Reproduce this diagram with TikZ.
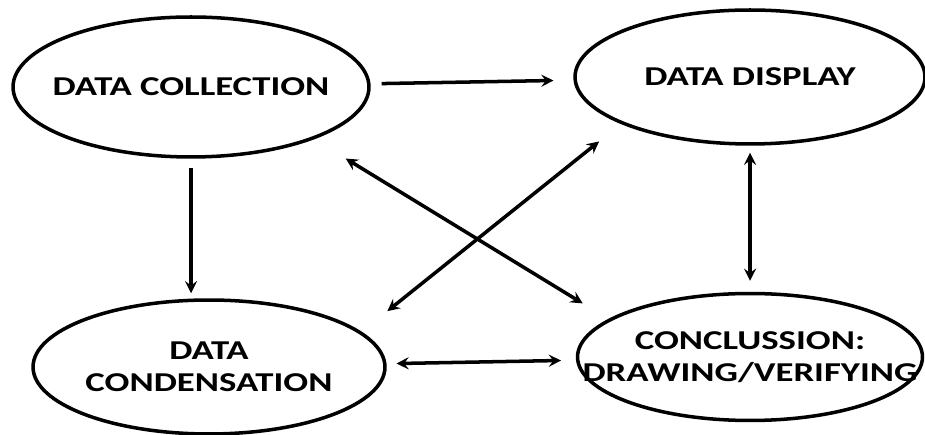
\documentclass[tikz,border=0pt]{standalone}
\usepackage{fontspec}
\newfontfamily\lblfont{Carlito}[FakeStretch=1.35]
\usetikzlibrary{shapes.geometric}
\begin{document}
\begin{tikzpicture}[>=stealth,x=0.02cm,y=0.02cm,line width=2pt]
		\tikzset{stage/.style={ellipse,draw,inner sep=0pt,inner xsep=-1.5cm,align=center,font=\lblfont\bfseries\fontsize{15.5}{18.5}\selectfont}}
		\useasboundingbox (0,0) rectangle (925,435);
		\node[stage,minimum width=7.12cm,minimum height=2.8cm] (dc) at (191,348) {DATA COLLECTION};
		\node[stage,minimum width=7cm,minimum height=2.68cm] (dd) at (750,358) {DATA DISPLAY};
		\node[stage,minimum width=7.04cm,minimum height=2.68cm] (dn) at (209,68) {DATA\\CONDENSATION};
		\node[stage,minimum width=6.9cm,minimum height=2.54cm] (cc) at (750,78) {CONCLUSSION:\\DRAWING/VERIFYING};
		\draw[->,shorten <=0.22cm,shorten >=0.4cm] (dc)--(dd);
		\draw[->,shorten <=0.18cm,shorten >=0.1cm] (dc.south)--(dc.south |- dn.north);
		\draw[<->,shorten <=0.14cm,shorten >=0.22cm] (dd.south)--(cc.north);
		\draw[<->,shorten <=0.2cm,shorten >=0.3cm] (dn)--(cc);
		\draw[<->,shorten <=0.74cm,shorten >=0.6cm] (dc.-23)--(cc.165);
		\draw[<->,shorten <=0.56cm,shorten >=0.66cm] (dd.200)--(dn.13);
		\end{tikzpicture}
\end{document}
